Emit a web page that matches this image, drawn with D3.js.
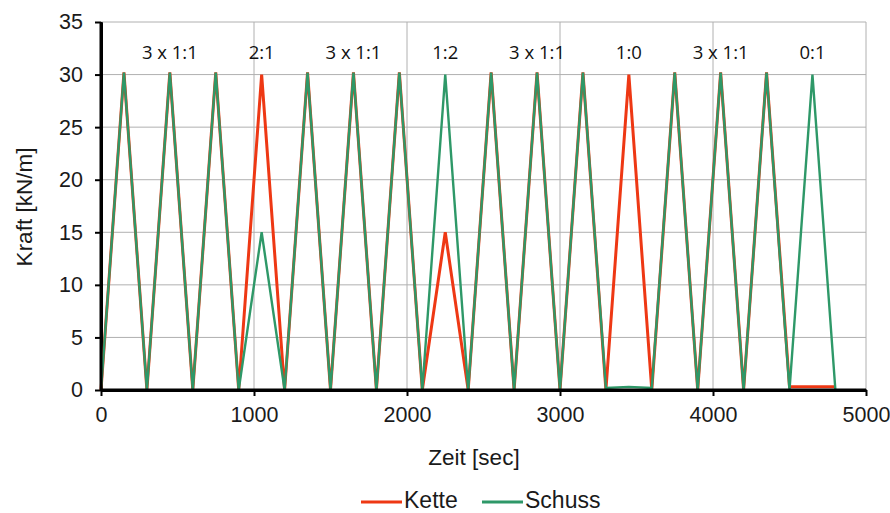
<!DOCTYPE html>
<html><head><meta charset="utf-8">
<script src="https://cdn.jsdelivr.net/npm/d3@7"></script>
<style>body{margin:0;background:#fff}svg{display:block}</style>
</head><body>
<script>
const times = [0,150,300,450,600,750,900,1050,1200,1350,1500,1650,1800,1950,2100,2250,2400,2550,2700,2850,3000,3150,3300,3450,3600,3750,3900,4050,4200,4350,4500,4650,4800];
const kette = [0,30.2,0,30.2,0,30.2,0,30,0,30.2,0,30.2,0,30.2,0,15,0,30.2,0,30.2,0,30.2,0,30,0,30.2,0,30.2,0,30.2,0.3,0.3,0.3];
const schuss = [0,30.2,0,30.2,0,30.2,0,15,0,30.2,0,30.2,0,30.2,0,30,0,30.2,0,30.2,0,30.2,0.2,0.3,0.2,30.2,0,30.2,0,30.2,0,30,0];
const labels = ["3 x 1:1","2:1","3 x 1:1","1:2","3 x 1:1","1:0","3 x 1:1","0:1"];
const labelPos = [450,1050,1650,2250,2850,3450,4050,4650];
const xTicks = [0,1000,2000,3000,4000,5000];
const yTicks = [0,5,10,15,20,25,30,35];

const W=890,H=513;
const svg=d3.select("body").append("svg").attr("width",W).attr("height",H);
const x=d3.scaleLinear().domain([0,5000]).range([101,866]);
const y=d3.scaleLinear().domain([0,35]).range([390,22]);
const font="'Liberation Sans', Arial, sans-serif";
const txt="#1a1a1a";

// grid
svg.append("g").selectAll("line").data(yTicks.filter(d=>d>0)).join("line")
 .attr("x1",x(0)).attr("x2",x(5000)).attr("y1",d=>y(d)).attr("y2",d=>y(d))
 .attr("stroke","#b0b0b0").attr("stroke-width",1);
svg.append("g").selectAll("line").data(xTicks.filter(d=>d>0)).join("line")
 .attr("x1",d=>x(d)).attr("x2",d=>x(d)).attr("y1",y(0)).attr("y2",y(35))
 .attr("stroke","#b0b0b0").attr("stroke-width",1);

// axes
const xa=svg.append("g").attr("transform",`translate(0,${y(0)})`)
 .call(d3.axisBottom(x).tickValues(xTicks).tickSize(6).tickSizeOuter(0).tickPadding(11).tickFormat(d3.format("d")));
const ya=svg.append("g").attr("transform",`translate(${x(0)},0)`)
 .call(d3.axisLeft(y).tickValues(yTicks).tickSize(6).tickSizeOuter(0).tickPadding(12));
[xa,ya].forEach(a=>{
 a.select(".domain").attr("stroke","#000").attr("stroke-width",3);
 a.selectAll(".tick line").attr("stroke","#000").attr("stroke-width",2);
 a.selectAll("text").attr("font-family",font).attr("font-size",21.5).attr("fill",txt);
});

// lines
const line=vals=>d3.line().x((d,i)=>x(times[i])).y(d=>y(d))(vals);
svg.append("path").attr("d",line(kette)).attr("fill","none").attr("stroke","#ee3814").attr("stroke-width",3).attr("stroke-linejoin","miter");
svg.append("path").attr("d",line(schuss)).attr("fill","none").attr("stroke","#2e9868").attr("stroke-width",2.4).attr("stroke-linejoin","miter");

// re-draw axis domains on top
svg.append("line").attr("x1",x(0)).attr("x2",x(5000)).attr("y1",y(0)).attr("y2",y(0)).attr("stroke","#000").attr("stroke-width",3);
svg.append("line").attr("x1",x(0)).attr("x2",x(0)).attr("y1",y(0)).attr("y2",y(35)).attr("stroke","#000").attr("stroke-width",3);

// annotations
svg.append("g").selectAll("text").data(labels).join("text")
 .attr("x",(d,i)=>x(labelPos[i])).attr("y",59).attr("text-anchor","middle")
 .attr("font-family","'Open Sans', sans-serif").attr("font-size",18.5).attr("fill","#111").text(d=>d);

// axis titles
svg.append("text").attr("x",474).attr("y",465).attr("text-anchor","middle")
 .attr("font-family",font).attr("font-size",22.5).attr("fill",txt).text("Zeit [sec]");
svg.append("text").attr("transform","translate(32,207) rotate(-90)").attr("text-anchor","middle")
 .attr("font-family",font).attr("font-size",22.5).attr("fill",txt).text("Kraft [kN/m]");

// legend
const leg=[{n:"Kette",c:"#ee3814",x:361},{n:"Schuss",c:"#2e9868",x:482}];
leg.forEach(l=>{
 svg.append("line").attr("x1",l.x).attr("x2",l.x+41).attr("y1",502).attr("y2",502).attr("stroke",l.c).attr("stroke-width",3);
 svg.append("text").attr("x",l.x+43).attr("y",508).attr("font-family",font).attr("font-size",23).attr("fill",txt).text(l.n);
});
</script>
</body></html>
